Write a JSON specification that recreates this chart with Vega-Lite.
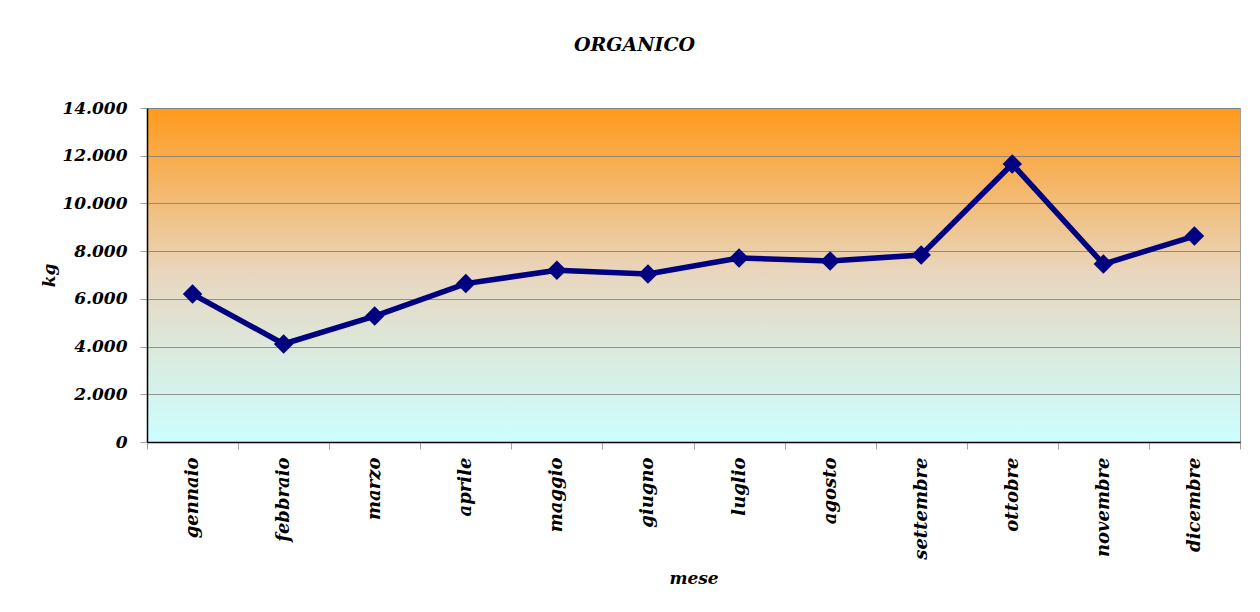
{
  "$schema": "https://vega.github.io/schema/vega-lite/v6.json",
  "width": 1093,
  "height": 334,
  "autosize": {"type": "none"},
  "padding": {"left": 147, "top": 108, "right": 20, "bottom": 170},
  "background": "white",
  "title": {
    "text": "ORGANICO",
    "font": "DejaVu Serif",
    "fontSize": 19,
    "fontStyle": "italic",
    "fontWeight": "bold",
    "color": "black",
    "anchor": "middle",
    "dx": -59,
    "offset": 44
  },
  "config": {
    "view": {
      "stroke": "#a0a0a0",
      "strokeWidth": 1,
      "fill": {
        "gradient": "linear",
        "x1": 0, "y1": 0, "x2": 0, "y2": 1,
        "stops": [
          {"offset": 0, "color": "#FF9A1C"},
          {"offset": 0.5, "color": "#E8D7C0"},
          {"offset": 1, "color": "#CCFFFF"}
        ]
      }
    },
    "axis": {
      "labelFont": "DejaVu Serif",
      "labelFontSize": 17,
      "labelFontStyle": "italic",
      "labelFontWeight": "bold",
      "labelColor": "black",
      "titleFont": "DejaVu Serif",
      "titleFontSize": 17,
      "titleFontStyle": "italic",
      "titleFontWeight": "bold",
      "titleColor": "black"
    }
  },
  "data": {
    "values": [
      {"mese": "gennaio", "kg": 6200},
      {"mese": "febbraio", "kg": 4110},
      {"mese": "marzo", "kg": 5280},
      {"mese": "aprile", "kg": 6640},
      {"mese": "maggio", "kg": 7200},
      {"mese": "giugno", "kg": 7040},
      {"mese": "luglio", "kg": 7710},
      {"mese": "agosto", "kg": 7590},
      {"mese": "settembre", "kg": 7840},
      {"mese": "ottobre", "kg": 11650},
      {"mese": "novembre", "kg": 7460},
      {"mese": "dicembre", "kg": 8630}
    ]
  },
  "encoding": {
    "x": {
      "field": "mese",
      "type": "nominal",
      "sort": null,
      "scale": {"type": "band", "paddingInner": 0, "paddingOuter": 0},
      "axis": {
        "title": "mese",
        "labelAngle": -90,
        "labelAlign": "right",
        "labelBaseline": "middle",
        "labelFontSize": 18,
        "labelPadding": 8,
        "tickBand": "extent",
        "tickSize": 7,
        "tickColor": "#a0a0a0",
        "domainColor": "black",
        "domainWidth": 1.5,
        "grid": false,
        "titlePadding": 11
      }
    },
    "y": {
      "field": "kg",
      "type": "quantitative",
      "scale": {"domain": [0, 14000], "nice": false},
      "axis": {
        "title": "kg",
        "values": [0, 2000, 4000, 6000, 8000, 10000, 12000, 14000],
        "labelExpr": "replace(format(datum.value, ','), ',', '.')",
        "tickSize": 7,
        "tickColor": "#a0a0a0",
        "domainColor": "black",
        "domainWidth": 1.5,
        "grid": true,
        "gridColor": "#7a7a7a",
        "gridOpacity": 0.8,
        "gridWidth": 1,
        "labelPadding": 13,
        "titlePadding": 3
      }
    }
  },
  "layer": [
    {
      "mark": {"type": "line", "color": "#000080", "strokeWidth": 5.5}
    },
    {
      "mark": {"type": "point", "shape": "diamond", "filled": true, "color": "#000080", "size": 380, "opacity": 1}
    }
  ]
}
